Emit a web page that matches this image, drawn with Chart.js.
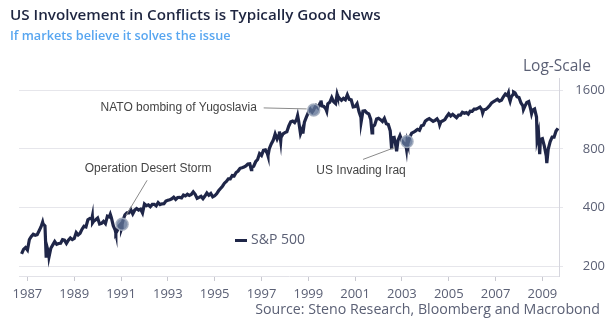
<!DOCTYPE html>
<html>
<head>
<meta charset="utf-8">
<script src="https://cdn.jsdelivr.net/npm/chart.js@4"></script>
<style>
  body { margin: 0; background: #fff; }
  #wrap { position: relative; width: 605px; height: 333px; font-family: "Open Sans", sans-serif; }
  #wrap div { position: absolute; white-space: nowrap; line-height: 1; }
  .title { left: 10px; top: 7px; font-size: 15.2px; font-weight: 600; color: #1e2540; }
  .subtitle { left: 10px; top: 29px; font-size: 12.7px; font-weight: 600; color: #58a6f0; }
  .logscale { left: 523px; top: 58px; font-size: 15.5px; color: #5b6075; }
  .source { right: 5px; top: 302px; font-size: 14.2px; color: #5b6075; }
  .legend { left: 235px; top: 232px; font-size: 14px; color: #5b6075; }
  .legend span { display: inline-block; width: 12px; height: 3px; background: #1f2648; vertical-align: middle; margin-right: 4px; }
</style>
</head>
<body>
<div id="wrap">
  <canvas id="chart" width="605" height="333"></canvas>
  <div class="title">US Involvement in Conflicts is Typically Good News</div>
  <div class="subtitle">If markets believe it solves the issue</div>
  <div class="logscale">Log-Scale</div>
  <div class="legend"><span></span>S&amp;P 500</div>
  <div class="source">Source: Steno Research, Bloomberg and Macrobond</div>
</div>
<script>
// S&P 500 closes: 'YYYY-MM' = month end, 'YYYY-MM-DD' = that day
const dates = [
  '1986-09','1986-10','1986-11','1986-12',
  '1987-01','1987-02','1987-03','1987-04','1987-05','1987-06','1987-07','1987-08-25','1987-08','1987-09','1987-10-19','1987-10','1987-11','1987-12-04','1987-12',
  '1988-01','1988-02','1988-03','1988-04','1988-05','1988-06','1988-07','1988-08','1988-09','1988-10','1988-11','1988-12',
  '1989-01','1989-02','1989-03','1989-04','1989-05','1989-06','1989-07','1989-08','1989-09','1989-10-09','1989-10-13','1989-10','1989-11','1989-12',
  '1990-01','1990-02','1990-03','1990-04','1990-05','1990-06','1990-07-16','1990-07','1990-08','1990-09','1990-10-11','1990-10','1990-11','1990-12',
  '1991-01-09','1991-01-16','1991-01-17','1991-01','1991-02','1991-03','1991-04','1991-05','1991-06','1991-07','1991-08','1991-09','1991-10','1991-11','1991-12',
  '1992-01','1992-02','1992-03','1992-04','1992-05','1992-06','1992-07','1992-08','1992-09','1992-10','1992-11','1992-12',
  '1993-01','1993-02','1993-03','1993-04','1993-05','1993-06','1993-07','1993-08','1993-09','1993-10','1993-11','1993-12',
  '1994-01','1994-02','1994-03','1994-04','1994-05','1994-06','1994-07','1994-08','1994-09','1994-10','1994-11','1994-12',
  '1995-01','1995-02','1995-03','1995-04','1995-05','1995-06','1995-07','1995-08','1995-09','1995-10','1995-11','1995-12',
  '1996-01','1996-02','1996-03','1996-04','1996-05','1996-06','1996-07-24','1996-07','1996-08','1996-09','1996-10','1996-11','1996-12',
  '1997-01','1997-02','1997-03','1997-04-11','1997-04','1997-05','1997-06','1997-07','1997-08','1997-09','1997-10-07','1997-10-27','1997-10','1997-11','1997-12',
  '1998-01','1998-02','1998-03','1998-04','1998-05','1998-06','1998-07-17','1998-07','1998-08','1998-09','1998-10-08','1998-10','1998-11','1998-12',
  '1999-01','1999-02','1999-03-24','1999-03','1999-04','1999-05','1999-06','1999-07-16','1999-07','1999-08','1999-09','1999-10-15','1999-10','1999-11','1999-12',
  '2000-01','2000-02','2000-03-24','2000-03','2000-04','2000-05','2000-06','2000-07','2000-08','2000-09','2000-10','2000-11','2000-12',
  '2001-01','2001-02','2001-03','2001-04-04','2001-04','2001-05','2001-06','2001-07','2001-08','2001-09-21','2001-09','2001-10','2001-11','2001-12',
  '2002-01','2002-02','2002-03','2002-04','2002-05','2002-06','2002-07-23','2002-07','2002-08','2002-09','2002-10-09','2002-10','2002-11','2002-12',
  '2003-01','2003-02','2003-03-11','2003-03-20','2003-03','2003-04','2003-05','2003-06','2003-07','2003-08','2003-09','2003-10','2003-11','2003-12',
  '2004-01','2004-02','2004-03','2004-04','2004-05','2004-06','2004-07','2004-08-12','2004-08','2004-09','2004-10','2004-11','2004-12',
  '2005-01','2005-02','2005-03','2005-04','2005-05','2005-06','2005-07','2005-08','2005-09','2005-10','2005-11','2005-12',
  '2006-01','2006-02','2006-03','2006-04','2006-05','2006-06-13','2006-06','2006-07','2006-08','2006-09','2006-10','2006-11','2006-12',
  '2007-01','2007-02','2007-03','2007-04','2007-05','2007-06','2007-07-19','2007-07','2007-08-15','2007-08','2007-09','2007-10-09','2007-10','2007-11','2007-12',
  '2008-01','2008-02','2008-03-10','2008-03','2008-04','2008-05','2008-06','2008-07-15','2008-07','2008-08','2008-09','2008-10-10','2008-10','2008-11-20','2008-11','2008-12',
  '2009-01','2009-02','2009-03-09','2009-03','2009-04','2009-05','2009-06','2009-07','2009-08'
];
const spx = [
  231.3,244.0,249.2,242.2,
  274.1,284.2,291.7,288.4,290.1,304.0,318.7,336.8,329.8,321.8,224.8,251.8,230.3,223.9,247.1,
  257.1,267.8,258.9,261.3,262.2,273.5,272.0,261.5,271.9,279.0,273.7,277.7,
  297.5,288.9,294.9,309.6,320.5,318.0,346.1,351.5,349.2,359.8,333.7,340.4,346.0,353.4,
  329.1,331.9,339.9,330.8,361.2,358.0,369.0,356.2,322.6,306.1,295.5,304.0,322.2,330.2,
  311.5,316.2,328.0,343.9,367.1,375.2,375.3,389.8,371.2,387.8,395.4,387.9,392.5,375.2,417.1,
  408.8,412.7,403.7,415.0,415.4,408.1,424.2,414.0,417.8,418.7,431.4,435.7,
  438.8,443.4,451.7,440.2,450.2,450.5,448.1,463.6,458.9,467.8,461.8,466.5,
  481.6,467.1,445.8,450.9,456.5,444.3,458.3,475.5,462.7,472.4,453.7,459.3,
  470.4,487.4,500.7,514.7,533.4,544.8,562.1,561.9,584.4,581.5,605.4,615.9,
  636.0,640.4,645.5,654.2,669.1,670.6,626.7,640.0,652.0,687.3,705.3,757.0,740.7,
  786.2,790.8,757.1,737.7,801.3,848.3,885.1,954.3,899.5,947.3,983.1,877.0,914.6,955.4,970.4,
  980.3,1049.3,1101.8,1111.8,1090.8,1133.8,1186.8,1120.7,957.3,1017.0,959.4,1098.7,1163.6,1229.2,
  1279.6,1238.3,1268.6,1286.4,1335.2,1301.8,1372.7,1418.8,1328.7,1320.4,1282.7,1247.4,1362.9,1388.9,1469.3,
  1394.5,1366.4,1527.5,1498.6,1452.4,1420.6,1454.6,1430.8,1517.7,1436.5,1429.4,1315.0,1320.3,
  1366.0,1239.9,1160.3,1103.3,1249.5,1255.8,1224.4,1211.2,1133.6,965.8,1040.9,1059.8,1139.5,1148.1,
  1130.2,1106.7,1147.4,1076.9,1067.1,989.8,797.7,911.6,916.1,815.3,776.8,885.8,936.3,879.8,
  855.7,841.2,800.7,874.0,848.2,916.9,963.6,974.5,990.3,1008.0,996.0,1050.7,1058.2,1111.9,
  1131.1,1144.9,1126.2,1107.3,1120.7,1140.8,1101.7,1063.2,1104.2,1114.6,1130.2,1173.8,1211.9,
  1181.3,1203.6,1180.6,1156.9,1191.5,1191.3,1234.2,1220.3,1228.8,1207.0,1249.5,1248.3,
  1280.1,1280.7,1294.8,1310.6,1270.1,1223.7,1270.2,1276.7,1303.8,1335.9,1377.9,1400.6,1418.3,
  1438.2,1406.8,1420.9,1482.4,1530.6,1503.4,1553.1,1455.3,1406.7,1474.0,1526.8,1565.2,1549.4,1481.1,1468.4,
  1378.6,1330.6,1273.4,1322.7,1385.6,1400.4,1280.0,1214.9,1267.4,1282.8,1166.4,899.2,968.8,752.4,896.2,903.3,
  825.9,735.1,676.5,797.9,872.8,919.1,919.3,987.5,1020.6
];
const xTicks = [1987, 1989, 1991, 1993, 1995, 1997, 1999, 2001, 2003, 2005, 2007, 2009];
const yTicks = [200, 400, 800, 1600];

// events marked on the line
const noteDates = ['1991-01-17', '1999-03-24', '2003-03-20'];
const noteValues = [328.0, 1268.6, 874.0];
const noteLabels = ['Operation Desert Storm', 'NATO bombing of Yugoslavia', 'US Invading Iraq'];
// label / leader line offsets from the circle (px)
const noteLayout = [
  { tx: 26, ty: -56, x1: 25, y1: -44, x2: 4, y2: -9 },
  { tx: -135, ty: -2, x1: -50, y1: -2, x2: -7, y2: -1 },
  { tx: -46, ty: 29, x1: -44, y1: 18, x2: -12, y2: 6 }
];

function toYear(s) {
  const p = s.split('-').map(Number);
  if (p.length === 2) return p[0] + p[1] / 12;
  return p[0] + (p[1] - 1) / 12 + (p[2] - 1) / 365;
}

const navy = '#1f2648';
const tickColor = '#5b6075';

const notesPlugin = {
  id: 'notes',
  afterDatasetsDraw(chart) {
    const ctx = chart.ctx;
    const xs = chart.scales.x, ys = chart.scales.y;
    ctx.save();
    noteDates.forEach((d, i) => {
      const px = xs.getPixelForValue(toYear(d));
      const py = ys.getPixelForValue(noteValues[i]);
      const l = noteLayout[i];
      ctx.strokeStyle = '#8a8a8a';
      ctx.lineWidth = 1;
      ctx.beginPath();
      ctx.moveTo(px + l.x1, py + l.y1);
      ctx.lineTo(px + l.x2, py + l.y2);
      ctx.stroke();
      ctx.beginPath();
      ctx.arc(px, py, 6, 0, Math.PI * 2);
      ctx.fillStyle = 'rgba(95,115,150,0.8)';
      ctx.fill();
      ctx.strokeStyle = 'rgba(165,175,192,0.9)';
      ctx.lineWidth = 1.5;
      ctx.stroke();
      ctx.fillStyle = '#444';
      ctx.font = '12px "Liberation Sans", Arial, sans-serif';
      ctx.textAlign = 'center';
      ctx.textBaseline = 'middle';
      ctx.fillText(noteLabels[i], px + l.tx, py + l.ty);
    });
    ctx.restore();
  }
};

new Chart(document.getElementById('chart'), {
  type: 'line',
  data: {
    datasets: [{
      label: 'S&P 500',
      data: dates.map((d, i) => ({ x: toYear(d), y: spx[i] })),
      borderColor: navy,
      borderWidth: 3.2,
      pointRadius: 0,
      tension: 0,
      fill: false
    }]
  },
  options: {
    responsive: false,
    animation: false,
    devicePixelRatio: 1,
    layout: { padding: { left: 19, top: 78, right: 0, bottom: 0 } },
    plugins: {
      legend: { display: false },
      tooltip: { enabled: false }
    },
    scales: {
      x: {
        type: 'linear',
        min: 1986.64,
        max: 2009.71,
        afterBuildTicks: s => { s.ticks = xTicks.map(v => ({ value: v })); },
        afterFit: s => { s.height = 57; },
        grid: { drawOnChartArea: false, tickLength: 5, color: '#c8c8d0' },
        border: { color: '#e2e2e8' },
        ticks: {
          color: tickColor,
          font: { family: 'Open Sans', size: 13 },
          padding: 5,
          maxRotation: 0,
          callback: v => String(v)
        }
      },
      y: {
        type: 'logarithmic',
        position: 'right',
        min: 178,
        max: 1850,
        afterBuildTicks: s => { s.ticks = yTicks.map(v => ({ value: v })); },
        afterFit: s => { s.width = 46; },
        grid: { color: '#e6e6eb', tickLength: 4 },
        border: { color: '#d6d6de' },
        ticks: {
          color: tickColor,
          font: { family: 'Open Sans', size: 13 },
          padding: 3,
          crossAlign: 'far',
          callback: v => String(v)
        }
      }
    }
  },
  plugins: [notesPlugin]
});
</script>
</body>
</html>
